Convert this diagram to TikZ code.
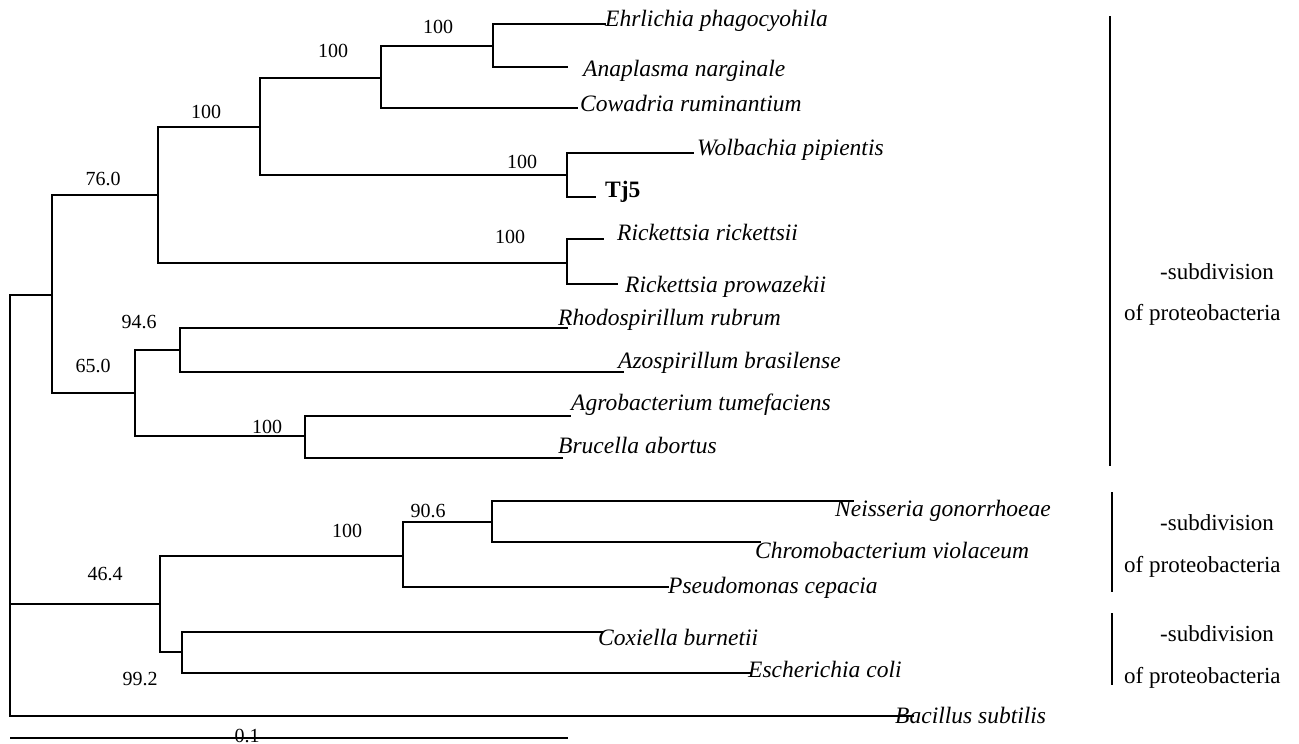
\documentclass[tikz,border=0pt]{standalone}
\usepackage{fontspec}
\setmainfont{Liberation Serif}
\begin{document}
\begin{tikzpicture}[x=1pt,y=-1pt,
  br/.style={line width=1.7pt, line cap=rect},
  sp/.style={anchor=base west, inner sep=0pt, font=\fontsize{23.5}{26}\selectfont\itshape},
  bs/.style={anchor=base, inner sep=0pt, font=\fontsize{20}{24}\selectfont},
  grp/.style={anchor=base west, inner sep=0pt, font=\fontsize{23}{26}\selectfont}]
\useasboundingbox (0,0) rectangle (1299,744);
% internal nodes
\coordinate (R) at (10,295);
\coordinate (A) at (52,295);
\coordinate (B) at (158,195);
\coordinate (C) at (260,127);
\coordinate (D) at (381,78);
\coordinate (E) at (493,46);
\coordinate (F) at (567,175);
\coordinate (G) at (567,263);
\coordinate (H) at (135,393);
\coordinate (I) at (180,350);
\coordinate (J) at (305,436);
\coordinate (K) at (160,604);
\coordinate (L) at (403,556);
\coordinate (M) at (492,522);
\coordinate (N) at (182,652);
% tips
\coordinate (t1) at (605,24);
\coordinate (t2) at (567,67);
\coordinate (t3) at (577,108);
\coordinate (t4) at (693,153);
\coordinate (t5) at (595,197);
\coordinate (t6) at (603,239);
\coordinate (t7) at (617,284);
\coordinate (t8) at (567,328);
\coordinate (t9) at (623,372);
\coordinate (t10) at (570,416);
\coordinate (t11) at (562,458);
\coordinate (t12) at (853,501);
\coordinate (t13) at (760,542);
\coordinate (t14) at (668,587);
\coordinate (t15) at (602,632);
\coordinate (t16) at (750,673);
\coordinate (t17) at (913,716);
% tree
\draw[br] (R) |- (A);
\draw[br] (R) |- (K);
\draw[br] (R) |- (t17);
\draw[br] (A) |- (B);
\draw[br] (A) |- (H);
\draw[br] (B) |- (C);
\draw[br] (B) |- (G);
\draw[br] (C) |- (D);
\draw[br] (C) |- (F);
\draw[br] (D) |- (E);
\draw[br] (D) |- (t3);
\draw[br] (E) |- (t1);
\draw[br] (E) |- (t2);
\draw[br] (F) |- (t4);
\draw[br] (F) |- (t5);
\draw[br] (G) |- (t6);
\draw[br] (G) |- (t7);
\draw[br] (H) |- (I);
\draw[br] (H) |- (J);
\draw[br] (I) |- (t8);
\draw[br] (I) |- (t9);
\draw[br] (J) |- (t10);
\draw[br] (J) |- (t11);
\draw[br] (K) |- (L);
\draw[br] (K) |- (N);
\draw[br] (L) |- (M);
\draw[br] (L) |- (t14);
\draw[br] (M) |- (t12);
\draw[br] (M) |- (t13);
\draw[br] (N) |- (t15);
\draw[br] (N) |- (t16);
% species
\node[sp] (s1) at (605,27) {Ehrlichia phagocyohila};
\node[sp] (s2) at (583,76) {Anaplasma narginale};
\node[sp] (s3) at (580,111) {Cowadria ruminantium};
\node[sp] (s4) at (697,155) {Wolbachia pipientis};
\node[sp, font=\fontsize{23.5}{26}\selectfont\bfseries] (s5) at (605,197) {Tj5};
\node[sp] (s6) at (617,240) {Rickettsia rickettsii};
\node[sp] (s7) at (625,292) {Rickettsia prowazekii};
\node[sp] (s8) at (558,325) {Rhodospirillum rubrum};
\node[sp] (s9) at (618,368) {Azospirillum brasilense};
\node[sp] (s10) at (571,410) {Agrobacterium tumefaciens};
\node[sp] (s11) at (558,453) {Brucella abortus};
\node[sp] (s12) at (835,516) {Neisseria gonorrhoeae};
\node[sp] (s13) at (755,558) {Chromobacterium violaceum};
\node[sp] (s14) at (668,593) {Pseudomonas cepacia};
\node[sp] (s15) at (598,645) {Coxiella burnetii};
\node[sp] (s16) at (748,677) {Escherichia coli};
\node[sp] (s17) at (895,723) {Bacillus subtilis};
% bootstrap values
\node[bs] (b1) at (103,185) {76.0};
\node[bs] (b2) at (206,118) {100};
\node[bs] (b3) at (333,57) {100};
\node[bs] (b4) at (438,33) {100};
\node[bs] (b5) at (522,168) {100};
\node[bs] (b6) at (510,243) {100};
\node[bs] (b7) at (139,328) {94.6};
\node[bs] (b8) at (93,372) {65.0};
\node[bs] (b9) at (267,433) {100};
\node[bs] (b10) at (105,580) {46.4};
\node[bs] (b11) at (347,537) {100};
\node[bs] (b12) at (428,517) {90.6};
\node[bs] (b13) at (140,685) {99.2};
% scale bar
\coordinate (sb1) at (10,738);
\coordinate (sb2) at (568,738);
\draw[line width=1.5pt] (sb1) -- (sb2);
\node[bs] (sbl) at (247,742) {0.1};
% group bars
\coordinate (g1a) at (1110,16);
\coordinate (g1b) at (1110,466);
\coordinate (g2a) at (1112,492);
\coordinate (g2b) at (1112,592);
\coordinate (g3a) at (1112,613);
\coordinate (g3b) at (1112,685);
\draw[line width=1.7pt] (g1a) -- (g1b);
\draw[line width=1.7pt] (g2a) -- (g2b);
\draw[line width=1.7pt] (g3a) -- (g3b);
\node[grp] (l1a) at (1160,279) {-subdivision};
\node[grp] (l1b) at (1124,320) {of proteobacteria};
\node[grp] (l2a) at (1160,530) {-subdivision};
\node[grp] (l2b) at (1124,572) {of proteobacteria};
\node[grp] (l3a) at (1160,641) {-subdivision};
\node[grp] (l3b) at (1124,683) {of proteobacteria};
\end{tikzpicture}
\end{document}
